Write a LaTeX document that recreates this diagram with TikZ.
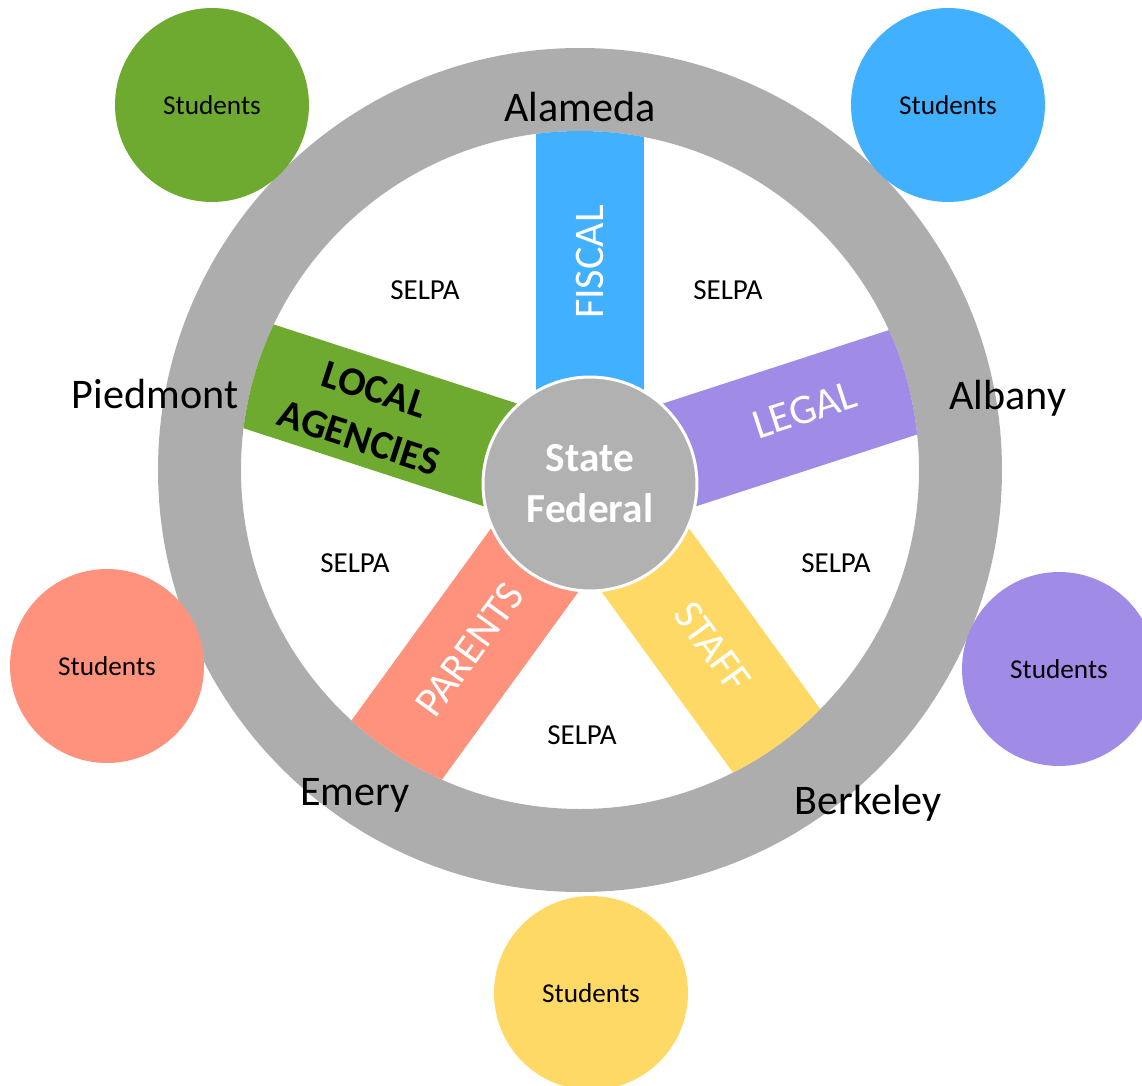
\documentclass[tikz,border=0pt]{standalone}
\usepackage{fontspec}
\setmainfont{Carlito}
\usepackage{xcolor}
\usetikzlibrary{positioning, calc}

\definecolor{ringgray}{HTML}{ADADAD}
\definecolor{hubgray}{HTML}{B1B1B1}
\definecolor{fiscalblue}{HTML}{41B0FF}
\definecolor{legalpurple}{HTML}{A08BE6}
\definecolor{staffyellow}{HTML}{FFD966}
\definecolor{parentsred}{HTML}{FF927C}
\definecolor{localgreen}{HTML}{6DAA2F}

\begin{document}
\begin{tikzpicture}[
      x=0.02cm, y=0.02cm,
      students/.style={circle, minimum size=3.88cm, inner sep=0pt, font=\fontsize{15.5}{18}\selectfont},
      town/.style={font=\fontsize{24}{28}\selectfont},
      selpa/.style={font=\fontsize{16.5}{19}\selectfont},
      spoketext/.style={text=white, font=\fontsize{24}{28}\selectfont},
      hub/.style={circle, fill=hubgray, draw=white, line width=1.7pt, minimum size=4.28cm, align=center, text=white, font=\bfseries\fontsize{23.5}{29}\selectfont}
    ]
      \useasboundingbox (-580,-615) rectangle (562,470);

      % Ring
      \fill[ringgray, even odd rule] (0,0) circle (422) (0,0) circle (339);
      \coordinate (ctr) at (10,-14);

      % Spokes
      \begin{scope}
        \clip (0,0) circle (339);
        \foreach \ang/\col in {90/fiscalblue, 18/legalpurple, -54/staffyellow, -126/parentsred, 162/localgreen}
          \fill[\col, shift={(ctr)}, rotate=\ang] (0,-54) rectangle (400,54);
      \end{scope}

      % Hub
      \node[hub] (hub) at (ctr) {State\\Federal};

      % Spoke labels
      \node[spoketext, rotate=90] (fiscal) at ($(ctr)+(90:222)$) {FISCAL};
      \node[spoketext, rotate=18] (legal) at ($(ctr)+(19:227)$) {LEGAL};
      \node[spoketext, rotate=-54] (staff) at ($(ctr)+(-53:204)$) {STAFF};
      \node[spoketext, rotate=54] (parents) at ($(ctr)+(-126:205)$) {PARENTS};
      \node[rotate=-18, align=center, font=\bfseries\fontsize{23}{29}\selectfont] (local) at ($(ctr)+(162.5:234)$) {LOCAL\\AGENCIES};

      % SELPA
      \node[selpa] (selpa1) at (-155,180) {SELPA};
      \node[selpa] (selpa2) at (148,180) {SELPA};
      \node[selpa] (selpa3) at (-225,-93) {SELPA};
      \node[selpa] (selpa4) at (256,-93) {SELPA};
      \node[selpa] (selpa5) at (2,-265) {SELPA};

      % Towns
      \node[town] (alameda) at (0,363) {Alameda};
      \node[town] (albany) at (428,72) {Albany};
      \node[town] (berkeley) at (288,-333) {Berkeley};
      \node[town] (emery) at (-225,-325) {Emery};
      \node[town] (piedmont) at (-425,76) {Piedmont};

      % Students
      \node[students, fill=localgreen] (stugreen) at (-368,365) {Students};
      \node[students, fill=fiscalblue] (stublue) at (368,365) {Students};
      \node[students, fill=parentsred] (stured) at (-473,-196) {Students};
      \node[students, fill=legalpurple] (stupurple) at (479,-199) {Students};
      \node[students, fill=staffyellow] (stuyellow) at (11,-523) {Students};
    \end{tikzpicture}
\end{document}
